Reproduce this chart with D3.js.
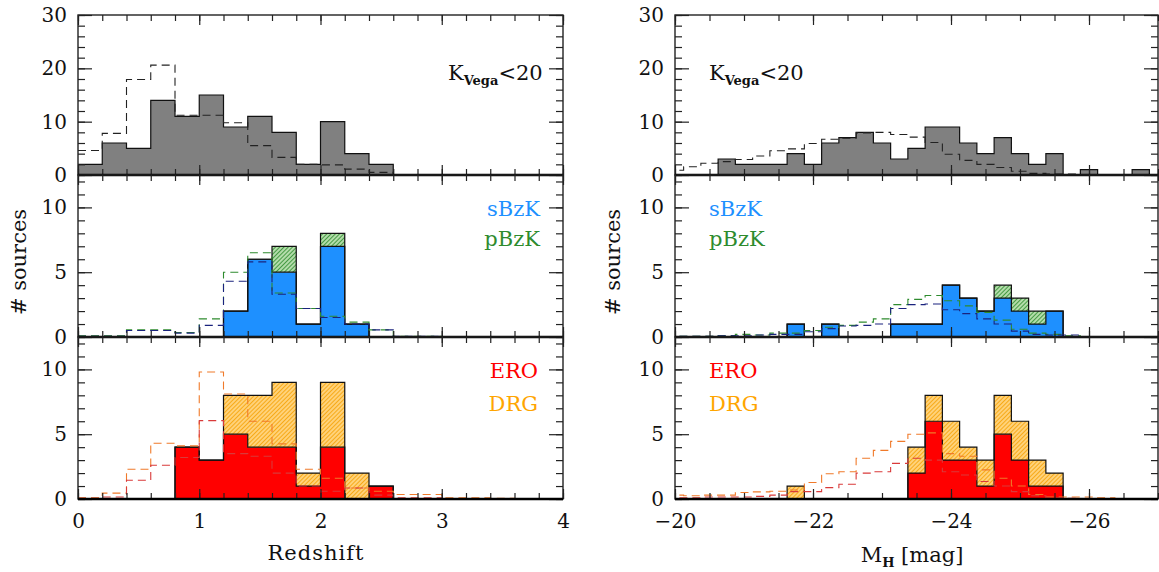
<!DOCTYPE html>
<html><head><meta charset="utf-8">
<script src="https://cdn.jsdelivr.net/npm/d3@7"></script>
<style>body{margin:0;background:#fff}svg{display:block}text{font-family:"DejaVu Serif",serif;fill:#111}</style>
</head><body><svg id="c" width="1159" height="572"></svg>
<script>
// ---------- DATA ----------
// Left column: redshift bins (edges)
const zEdges = [0,0.2,0.4,0.6,0.8,1.0,1.2,1.4,1.6,1.8,2.0,2.2,2.4,2.6,2.8,3.0,3.2,3.4,3.6,3.8,4.0];
const allZ     = [2,6,5,14,11,15,9,11,8,2,10,4,2,0,0,0,0,0,0,0];
const allZExp  = [4.6,7.8,17.9,20.6,11.2,11.2,9.8,5.5,3.3,2.0,1.9,1.1,0.5,0.1,0.1,0,0,0,0,0];
const sbzkZ    = [0,0,0,0,0,0,2,6,5,1,7,1,0,0,0,0,0,0,0,0];
const pbzkZ    = [0,0,0,0,0,0,0,0,2,0,1,0,0,0,0,0,0,0,0,0];
const bzkZExp  = [0.1,0.1,0.55,0.55,0.35,1.4,5.0,6.5,3.4,2.2,1.6,1.15,0.55,0.05,0.05,0,0,0,0,0];
const sbzkZExp = [0.05,0.05,0.5,0.5,0.3,0.9,4.3,5.8,3.3,2.2,1.5,1.0,0.55,0.05,0.05,0,0,0,0,0];
const eroZ     = [0,0,0,0,4,3,5,4,4,1,4,0,1,0,0,0,0,0,0,0];
const drgZ     = [0,0,0,0,0,0,3,4,5,1,5,2,0,0,0,0,0,0,0,0];
const drgZExp  = [0.1,0.45,2.3,4.3,4.1,9.8,8.1,6.0,4.25,2.3,1.6,0.85,0.6,0.35,0.35,0.1,0.1,0.05,0,0];
const eroZExp  = [0.05,0.15,1.45,2.6,3.2,6.05,3.5,3.3,2.0,1.0,0.6,0.85,0.3,0.1,0.1,0,0,0,0,0];

// Right column: absolute H magnitude bins (centres, half width)
const mhCenters = [-20,-20.25,-20.5,-20.75,-21,-21.25,-21.5,-21.75,-22,-22.25,-22.5,-22.75,-23,-23.25,-23.5,-23.75,-24,-24.25,-24.5,-24.75,-25,-25.25,-25.5,-25.75,-26,-26.25,-26.5,-26.75,-27];
const mhHalf = 0.125;
const allM     = [0,0,0,3,2,2,2,4,2,6,7,8,6,3,5,9,9,6,4,7,4,2,4,0,1,0,0,1,0];
const allMExp  = [0.9,1.55,2.2,2.5,2.9,3.55,4.55,4.9,5.9,6.7,6.9,7.9,8.0,7.6,7.1,6.1,3.9,2.75,2.0,1.4,0.7,0.3,0.2,0.2,0,0,0,0,0];
const sbzkM    = [0,0,0,0,0,0,0,1,0,1,0,0,0,1,1,1,4,3,2,3,2,1,2,0,0,0,0,0,0];
const pbzkM    = [0,0,0,0,0,0,0,0,0,0,0,0,0,0,0,0,0,0,0,1,1,1,0,0,0,0,0,0,0];
const bzkMExp  = [0.05,0.05,0.05,0.1,0.2,0.15,0.3,0.3,0.5,0.75,0.9,1.15,1.4,2.5,2.9,3.2,2.8,2.4,1.9,1.3,0.6,0.3,0.2,0.1,0,0,0,0,0];
const sbzkMExp = [0.05,0.05,0.05,0.1,0.1,0.15,0.2,0.2,0.4,0.65,0.85,0.9,1.0,2.2,2.5,2.55,2.1,1.8,1.4,1.0,0.45,0.2,0.15,0.15,0,0,0,0,0];
const eroM     = [0,0,0,0,0,0,0,0,0,0,0,0,0,0,2,6,3,3,1,5,3,1,1,0,0,0,0,0,0];
const drgM     = [0,0,0,0,0,0,0,1,0,0,0,0,0,0,2,2,3,1,2,3,3,2,1,0,0,0,0,0,0];
const drgMExp  = [0.3,0.25,0.3,0.3,0.5,0.55,0.6,0.7,1.27,1.95,2.1,3.15,3.75,4.45,5.0,5.1,3.5,3.3,2.25,1.6,1.0,0.35,0.15,0.15,0.15,0.1,0,0,0];
const eroMExp  = [0.1,0.1,0.15,0.15,0.15,0.2,0.3,0.57,0.57,0.88,1.14,2.0,2.1,2.75,3.15,3.0,2.1,1.85,1.35,1.0,0.57,0.25,0.1,0.05,0,0,0,0,0];

// Ticks
const zMajor = [0,1,2,3,4], zMajorLabels = ["0","1","2","3","4"];
const mhMajor = [-20,-22,-24,-26], mhMajorLabels = ["−20","−22","−24","−26"];
const yTopMajor = [0,10,20,30], yTopLabels = ["0","10","20","30"];
const ySubMajor = [0,5,10], ySubLabels = ["0","5","10"];

// ---------- LAYOUT ----------
const svg = d3.select("#c");
const defs = svg.append("defs");
function hatch(id, bg, fg){
  const p = defs.append("pattern").attr("id",id).attr("patternUnits","userSpaceOnUse")
    .attr("width",3).attr("height",3).attr("patternTransform","rotate(45)");
  p.append("rect").attr("width",3).attr("height",3).attr("fill",bg);
  p.append("line").attr("x1",0).attr("y1",0).attr("x2",0).attr("y2",3).attr("stroke",fg).attr("stroke-width",1.6);
}
hatch("hG","#b3dcaa","#2a8a2a");
hatch("hO","#ffd27a","#f5a000");

const xL = d3.scaleLinear([0,4],[78,563]);
const xR = d3.scaleLinear([-20,-27],[675,1158]);
const rows = [
  d3.scaleLinear([0,30],[175,15]),
  d3.scaleLinear([0,12.5],[337,175]),
  d3.scaleLinear([0,12.5],[499,337])
];
const edgesL = i => [zEdges[i], zEdges[i+1]];
const edgesR = i => [mhCenters[i]+mhHalf, mhCenters[i]-mhHalf];

let clipN = 0;
function panel(x, y, edges, bars, dashes, opts){
  const [xa,xb] = x.range(), [yb,ya] = y.range();
  const id = "cl"+(clipN++);
  defs.append("clipPath").attr("id",id).append("rect")
    .attr("x",xa).attr("y",ya).attr("width",xb-xa).attr("height",yb-ya);
  const g = svg.append("g");
  const inner = g.append("g").attr("clip-path",`url(#${id})`);
  const line = d3.line();
  // bars: step-filled areas, then step outlines
  const area = d3.area().x(p=>p.x).y0(p=>p.y0).y1(p=>p.y1);
  bars.forEach(b=>{
    const pts = b.vals.flatMap((v,i)=>{
      const base = b.base ? b.base[i] : 0; const [e0,e1]=edges(i);
      const top = v>0 ? base+v : base;
      return [{x:x(e0),y0:y(base),y1:y(top)},{x:x(e1),y0:y(base),y1:y(top)}];
    });
    inner.append("path").attr("d",area(pts)).attr("fill",b.fill).attr("stroke","none");
  });
  bars.forEach(b=>{
    const pts = b.vals.flatMap((v,i)=>{
      const base = b.base ? b.base[i] : 0; const [e0,e1]=edges(i);
      return [[x(e0),y(base+v)],[x(e1),y(base+v)]];
    });
    inner.append("path").attr("d",line(pts)).attr("fill","none")
      .attr("stroke","#111").attr("stroke-width",1.2);
  });
  // dashed step lines
  dashes.forEach(d=>{
    const pts = d.vals.flatMap((v,i)=>{const [e0,e1]=edges(i); return [[x(e0),y(v)],[x(e1),y(v)]];});
    inner.append("path").attr("d",line(pts)).attr("fill","none")
      .attr("stroke",d.color).attr("stroke-width",1.1).attr("stroke-dasharray","8,5");
  });
  // frame
  g.append("rect").attr("x",xa).attr("y",ya).attr("width",xb-xa).attr("height",yb-ya)
    .attr("fill","none").attr("stroke","#222").attr("stroke-width",1.4);
  // axes
  const style = s=>{ s.select(".domain").remove(); s.selectAll("line").attr("stroke","#222").attr("stroke-width",1.2);
    s.selectAll("text").attr("font-size",20).attr("font-family","DejaVu Serif").attr("fill","#111"); };
  const xMinor = opts.xMinor, yMinor = opts.yMinor;
  g.append("g").attr("transform",`translate(0,${yb})`)
    .call(d3.axisBottom(x).tickValues(opts.xMajor).tickSize(-10).tickPadding(15)
      .tickFormat((d,i)=> opts.xLabels ? opts.xLabels[i] : "")).call(style);
  g.append("g").attr("transform",`translate(0,${yb})`)
    .call(d3.axisBottom(x).tickValues(xMinor).tickSize(-6).tickFormat("")).call(style);
  g.append("g").attr("transform",`translate(0,${ya})`)
    .call(d3.axisTop(x).tickValues(opts.xMajor).tickSize(-10).tickFormat("")).call(style);
  g.append("g").attr("transform",`translate(0,${ya})`)
    .call(d3.axisTop(x).tickValues(xMinor).tickSize(-6).tickFormat("")).call(style);
  g.append("g").attr("transform",`translate(${xa},0)`)
    .call(d3.axisLeft(y).tickValues(opts.yMajor).tickSize(-14).tickPadding(11)
      .tickFormat((d,i)=>opts.yLabels[i])).call(style);
  g.append("g").attr("transform",`translate(${xa},0)`)
    .call(d3.axisLeft(y).tickValues(yMinor).tickSize(-7).tickFormat("")).call(style);
  g.append("g").attr("transform",`translate(${xb},0)`)
    .call(d3.axisRight(y).tickValues(opts.yMajor).tickSize(-14).tickFormat("")).call(style);
  g.append("g").attr("transform",`translate(${xb},0)`)
    .call(d3.axisRight(y).tickValues(yMinor).tickSize(-7).tickFormat("")).call(style);
  // thick baseline
  g.append("line").attr("x1",xa).attr("x2",xb).attr("y1",yb).attr("y2",yb)
    .attr("stroke","#000").attr("stroke-width",2.6);
}

const zMinor = d3.range(0,4.001,0.2);
const mhMinor = d3.range(-20,-27.001,-0.5);
const yTopMinor = d3.range(0,30.001,2);
const ySubMinor = d3.range(0,12.001,1);

const cols = [
  {x:xL, edges:edgesL, xMajor:zMajor, xMinor:zMinor, xLabels:zMajorLabels,
   data:[
     {bars:[{vals:allZ,fill:"#808080"}], dashes:[{vals:allZExp,color:"#222"}]},
     {bars:[{vals:sbzkZ,fill:"#1e90ff"},{vals:pbzkZ,base:sbzkZ,fill:"url(#hG)"}],
      dashes:[{vals:bzkZExp,color:"#2e8b2e"},{vals:sbzkZExp,color:"#1a237e"}]},
     {bars:[{vals:eroZ,fill:"#ff0000"},{vals:drgZ,base:eroZ,fill:"url(#hO)"}],
      dashes:[{vals:drgZExp,color:"#f07a2a"},{vals:eroZExp,color:"#d93a3a"}]}
   ]},
  {x:xR, edges:edgesR, xMajor:mhMajor, xMinor:mhMinor, xLabels:mhMajorLabels,
   data:[
     {bars:[{vals:allM,fill:"#808080"}], dashes:[{vals:allMExp,color:"#222"}]},
     {bars:[{vals:sbzkM,fill:"#1e90ff"},{vals:pbzkM,base:sbzkM,fill:"url(#hG)"}],
      dashes:[{vals:bzkMExp,color:"#2e8b2e"},{vals:sbzkMExp,color:"#1a237e"}]},
     {bars:[{vals:eroM,fill:"#ff0000"},{vals:drgM,base:eroM,fill:"url(#hO)"}],
      dashes:[{vals:drgMExp,color:"#f07a2a"},{vals:eroMExp,color:"#d93a3a"}]}
   ]}
];

cols.forEach(c=>{
  c.data.forEach((d,r)=>{
    panel(c.x, rows[r], c.edges, d.bars, d.dashes, {
      xMajor:c.xMajor, xMinor:c.xMinor, xLabels: r===2 ? c.xLabels : null,
      yMajor: r===0 ? yTopMajor : ySubMajor, yLabels: r===0 ? yTopLabels : ySubLabels,
      yMinor: r===0 ? yTopMinor : ySubMinor
    });
  });
});

// ---------- TEXT ----------
function kvega(x){
  const t = svg.append("text").attr("x",x).attr("y",80).attr("font-size",21);
  t.append("tspan").text("K");
  t.append("tspan").attr("font-size",13).attr("font-weight","bold").attr("dy",5).text("Vega");
  t.append("tspan").attr("dy",-5).text("<20");
}
kvega(448); kvega(709);

function lab(x,y,txt,color,anchor){
  svg.append("text").attr("x",x).attr("y",y).attr("font-size",21).attr("text-anchor",anchor)
    .style("fill",color).text(txt);
}
lab(540,216,"sBzK","#1e90ff","end");
lab(540,246,"pBzK","#2e8b2e","end");
lab(538,378,"ERO","#ff0000","end");
lab(538,411,"DRG","#ffa500","end");
lab(709,216,"sBzK","#1e90ff","start");
lab(709,246,"pBzK","#2e8b2e","start");
lab(709,378,"ERO","#ff0000","start");
lab(709,411,"DRG","#ffa500","start");

svg.append("text").attr("x",316).attr("y",560).attr("font-size",21).attr("text-anchor","middle")
  .attr("letter-spacing",1).text("Redshift");
const mt = svg.append("text").attr("x",912).attr("y",562).attr("font-size",21).attr("text-anchor","middle");
mt.append("tspan").text("M");
mt.append("tspan").attr("font-size",13).attr("font-weight","bold").attr("dy",5).text("H");
mt.append("tspan").attr("dy",-5).text(" [mag]");

[20,614].forEach(x=>{
  svg.append("text").attr("transform",`translate(${x+6},262) rotate(-90)`)
    .attr("font-size",21).attr("text-anchor","middle").text("# sources");
});
</script></body></html>
